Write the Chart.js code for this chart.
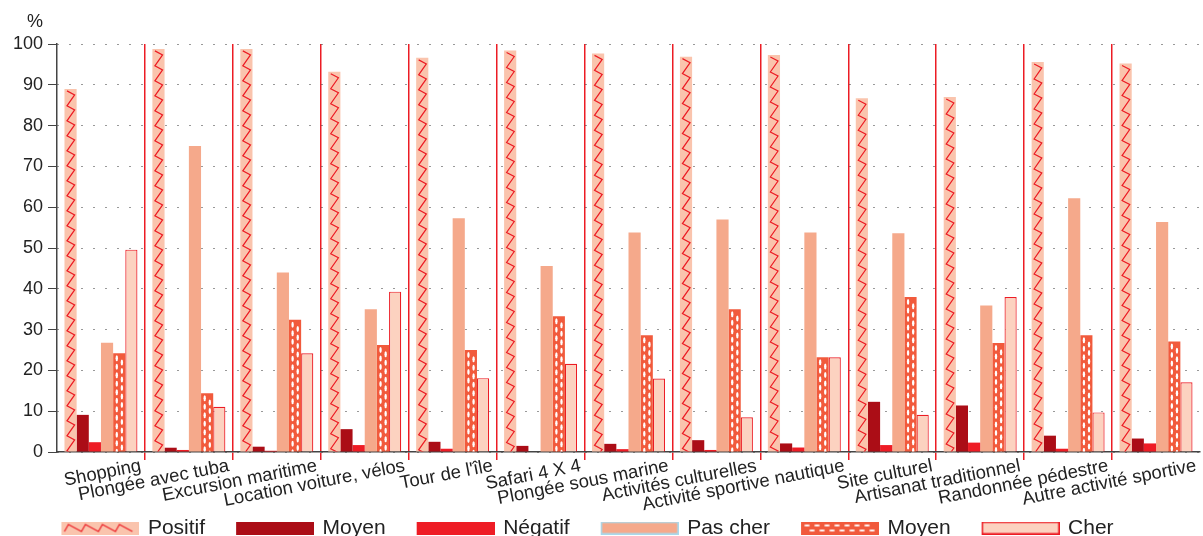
<!DOCTYPE html>
<html>
<head>
<meta charset="utf-8">
<script src="https://cdn.jsdelivr.net/npm/chart.js@4.4.1/dist/chart.umd.min.js"></script>
<style>
  html, body { margin: 0; padding: 0; background: #fff; }
  #wrap { width: 1203px; height: 536px; }
</style>
</head>
<body>
<div id="wrap"><canvas id="chart"></canvas></div>
<script>
const categories = ['Shopping', 'Plongée avec tuba', 'Excursion maritime', 'Location voiture, vélos', "Tour de l'île",
    'Safari 4 X 4', 'Plongée sous marine', 'Activités culturelles', 'Activité sportive nautique', 'Site culturel',
    'Artisanat traditionnel', 'Randonnée pédestre', 'Autre activité sportive'];
const positif = [89, 98.8, 98.8, 93.2, 96.6, 98.4, 97.7, 96.9, 97.3, 86.7, 87, 95.6, 95.2];
const moyen = [9.1, 1.05, 1.3, 5.6, 2.5, 1.5, 2, 2.9, 2.1, 12.3, 11.4, 4, 3.3];
const negatif = [2.4, 0.5, 0.3, 1.7, 0.8, 0, 0.7, 0.5, 1.1, 1.7, 2.3, 0.8, 2.1];
const pasCher = [26.8, 75, 44, 35, 57.3, 45.6, 53.8, 57, 53.8, 53.6, 35.9, 62.2, 56.4];
const moyenCout = [24.2, 14.4, 32.4, 26.2, 25, 33.3, 28.6, 35, 23.2, 38, 26.7, 28.6, 27.1];
const cher = [49.6, 11.1, 24.2, 39.3, 18.1, 21.6, 18, 8.5, 23.2, 9.1, 38, 9.7, 17.1];
const yTicks = [0, 10, 20, 30, 40, 50, 60, 70, 80, 90, 100];

const RED = '#ec1c24';
const FONT = "'Liberation Sans', Arial, sans-serif";

// legend swatches: transparent strip on the left acts as the gap between items
const SW_W = 105, SW_BOX = 78;
function swatch(fill, border, extra) {
    const c = document.createElement('canvas');
    c.width = SW_W; c.height = 13;
    const g = c.getContext('2d');
    g.translate(SW_W - SW_BOX, 0);
    g.fillStyle = fill;
    g.fillRect(0, 0, SW_BOX, 13);
    if (extra) extra(g);
    if (border) {
        g.strokeStyle = border;
        g.lineWidth = 1.5;
        g.strokeRect(0.75, 0.75, SW_BOX - 1.5, 11.5);
    }
    return c;
}
const swPositif = swatch('#fac4ad', null, g => {
    g.strokeStyle = RED; g.lineWidth = 1.2;
    g.beginPath();
    g.moveTo(3, 10);
    for (let x = 3; x < 70; x += 17) {
        g.lineTo(x + 4, 3);
        g.lineTo(x + 17, 10);
    }
    g.stroke();
});
const swMoyen = swatch('#ab0d16');
const swNegatif = swatch('#ee1c25');
const swPasCher = swatch('#f5a98b', '#a9d9ec');
const swMoyenCout = swatch('#f15a3c', null, g => {
    g.fillStyle = '#fff';
    for (let x = 6; x < 76; x += 10) {
        g.beginPath(); g.ellipse(x, 4, 3, 1.1, 0, 0, Math.PI * 2); g.fill();
        g.beginPath(); g.ellipse(x + 5, 9, 3, 1.1, 0, 0, Math.PI * 2); g.fill();
    }
});
const swCher = swatch('#fcd2c0', RED);

// zigzag and dots inside bars, placed from the bar elements
const barPatterns = {
    id: 'barPatterns',
    afterDatasetsDraw(chart) {
        const ctx = chart.ctx;
        chart.getDatasetMeta(0).data.forEach(bar => {
            const l = bar.x - bar.width / 2, w = bar.width, t = bar.y, b = bar.base;
            ctx.save();
            ctx.beginPath(); ctx.rect(l, t, w, b - t); ctx.clip();
            ctx.strokeStyle = RED; ctx.lineWidth = 1.2;
            ctx.beginPath();
            let yy = t + 2;
            ctx.moveTo(l + 2.5, yy);
            while (yy < b) {
                ctx.lineTo(l + w - 2, yy + 4);
                yy += 15;
                ctx.lineTo(l + 2.5, yy);
            }
            ctx.stroke();
            ctx.restore();
        });
        chart.getDatasetMeta(4).data.forEach(bar => {
            const l = bar.x - bar.width / 2, w = bar.width, t = bar.y, b = bar.base;
            ctx.save();
            ctx.beginPath(); ctx.rect(l, t, w, b - t); ctx.clip();
            ctx.fillStyle = '#fff';
            for (let yy = t + 5; yy < b + 4; yy += 8.5) {
                ctx.beginPath(); ctx.ellipse(l + w * 0.3, yy, 1.2, 3, 0, 0, Math.PI * 2); ctx.fill();
                ctx.beginPath(); ctx.ellipse(l + w * 0.72, yy + 4.2, 1.2, 3, 0, 0, Math.PI * 2); ctx.fill();
            }
            ctx.restore();
        });
    }
};

const percentLabel = {
    id: 'percentLabel',
    afterDraw(chart) {
        const ctx = chart.ctx;
        ctx.save();
        ctx.font = '18px ' + FONT;
        ctx.fillStyle = '#222';
        ctx.textBaseline = 'alphabetic';
        ctx.fillText('%', 27, 27);
        ctx.restore();
    }
};

const sepColor = ctx => (ctx.type !== 'tick' || ctx.index === 0) ? 'rgba(0,0,0,0)' : RED;

new Chart(document.getElementById('chart').getContext('2d'), {
    type: 'bar',
    data: {
        labels: categories,
        datasets: [
            { label: 'Positif', data: positif, backgroundColor: '#fac4ad', swatch: swPositif },
            { label: 'Moyen', data: moyen, backgroundColor: '#ab0d16', swatch: swMoyen },
            { label: 'Négatif', data: negatif, backgroundColor: '#ee1c25', swatch: swNegatif },
            { label: 'Pas cher', data: pasCher, backgroundColor: '#f5a98b', swatch: swPasCher },
            { label: 'Moyen', data: moyenCout, backgroundColor: '#f15a3c', swatch: swMoyenCout },
            { label: 'Cher', data: cher, backgroundColor: '#fcd2c0', borderColor: RED, borderWidth: 1.2, swatch: swCher }
        ]
    },
    options: {
        responsive: true,
        maintainAspectRatio: false,
        animation: false,
        datasets: { bar: { categoryPercentage: 0.83, barPercentage: 1 } },
        layout: { padding: { left: -50, right: 3, top: 44, bottom: -12.5 } },
        scales: {
            x: {
                offset: true,
                grid: { offset: true, color: sepColor, tickColor: sepColor, lineWidth: 1.5, tickLength: 8, tickBorderDash: [] },
                border: { color: '#444', width: 1.5 },
                ticks: {
                    autoSkip: false, minRotation: 11, maxRotation: 11, labelOffset: 40, padding: -5,
                    color: '#222', font: { size: 18.5, family: FONT }
                },
                afterFit: s => { s.height = 59.5; }
            },
            y: {
                min: 0, max: 100,
                afterBuildTicks: s => { s.ticks = yTicks.map(v => ({ value: v })); },
                grid: { color: '#333', lineWidth: 1, tickColor: '#444', tickLength: 9, tickBorderDash: [] },
                border: { color: '#444', width: 1.5, dash: [1, 11] },
                ticks: { color: '#222', padding: 5, font: { size: 18, family: FONT } },
                afterFit: s => { s.width = 107; }
            }
        },
        plugins: {
            tooltip: { enabled: false },
            legend: {
                position: 'bottom',
                labels: {
                    usePointStyle: true,
                    pointStyleWidth: SW_W - 4,
                    padding: 6,
                    color: '#222',
                    font: { size: 21, family: FONT },
                    generateLabels: chart => chart.data.datasets.map((ds, i) => ({
                        text: ds.label,
                        pointStyle: ds.swatch,
                        fillStyle: ds.backgroundColor,
                        strokeStyle: 'rgba(0,0,0,0)',
                        lineWidth: 0,
                        hidden: false,
                        datasetIndex: i,
                        fontColor: '#222'
                    }))
                }
            }
        }
    },
    plugins: [barPatterns, percentLabel]
});
</script>
</body>
</html>
